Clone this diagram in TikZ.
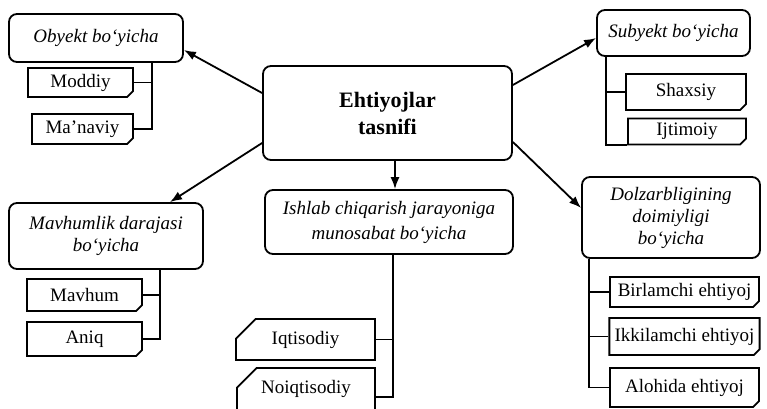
\documentclass[tikz,border=0pt]{standalone}
\usepackage{fontspec}
\setmainfont{Liberation Serif}
\usetikzlibrary{shapes.misc,arrows.meta}
\begin{document}
\begin{tikzpicture}[x=0.5pt,y=-0.5pt,line width=0.9pt]
       \tikzstyle{mainnode}=[draw, rounded corners=4pt, align=center, inner sep=2pt, font=\fontsize{9.5}{11}\selectfont\itshape]
       \tikzstyle{rootnode}=[mainnode, font=\fontsize{11}{13.5}\selectfont\bfseries]
       \tikzstyle{itemnode}=[draw, chamfered rectangle, chamfered rectangle corners=south east, chamfered rectangle xsep=1.6pt, chamfered rectangle ysep=1.3pt, inner sep=1pt, font=\fontsize{9.5}{11}\selectfont]
       \tikzstyle{leftitem}=[itemnode, chamfered rectangle corners=north west, chamfered rectangle xsep=13pt, chamfered rectangle ysep=4.5pt]
       \tikzstyle{arrowline}=[-{Latex[length=6pt,width=4.5pt]}]
       \useasboundingbox (0,0) rectangle (767,408);
       \node[rootnode, minimum width=124.5pt, minimum height=47pt] (ehtiyoj) at (387.5,113) {Ehtiyojlar\\tasnifi};
       \node[mainnode, minimum width=87pt, minimum height=24pt] (obyekt) at (96,38) {Obyekt bo`yicha};
       \node[mainnode, minimum width=76.5pt, minimum height=23pt] (subyekt) at (673.5,33) {Subyekt bo`yicha};
       \node[mainnode, minimum width=97pt, minimum height=33pt] (mavhumlik) at (106,236) {Mavhumlik darajasi\\bo`yicha};
       \node[mainnode, minimum width=124pt, minimum height=32pt, font=\fontsize{9.5}{12.5}\selectfont\itshape] (ishlab) at (389,222) {Ishlab chiqarish jarayoniga\\munosabat bo`yicha};
       \node[mainnode, minimum width=89pt, minimum height=40.5pt] (dolzarb) at (671,217.5) {Dolzarbligining\\doimiyligi\\bo`yicha};
       \node[itemnode, minimum width=52.5pt, minimum height=14.5pt] (moddiy) at (80.5,82.5) {Moddiy};
       \node[itemnode, minimum width=50.5pt, minimum height=15pt] (manaviy) at (82.5,129) {Ma’naviy};
       \node[itemnode, minimum width=60pt, minimum height=18pt] (shaxsiy) at (686,92) {Shaxsiy};
       \node[itemnode, minimum width=59pt, minimum height=12.5pt] (ijtimoiy) at (687,131.5) {Ijtimoiy};
       \node[itemnode, minimum width=57.5pt, minimum height=16pt] (mavhum) at (84.5,295) {Mavhum};
       \node[itemnode, minimum width=57.5pt, minimum height=17pt] (aniq) at (84.5,339) {Aniq};
       \node[leftitem, minimum width=69.5pt, minimum height=20.5pt] (iqtisodiy) at (305.5,339.5) {Iqtisodiy};
       \node[leftitem, minimum width=69pt, minimum height=21pt] (noiqtisodiy) at (306,389) {Noiqtisodiy};
       \node[itemnode, minimum width=74.5pt, minimum height=15pt] (birlamchi) at (684.5,292) {Birlamchi ehtiyoj};
       \node[itemnode, minimum width=74.5pt, minimum height=18.5pt] (ikkilamchi) at (684.5,336.5) {Ikkilamchi ehtiyoj};
       \node[itemnode, minimum width=74.5pt, minimum height=19.5pt] (alohida) at (684.5,387.5) {Alohida ehtiyoj};
       \draw[arrowline] ([yshift=10pt]ehtiyoj.west) -- ([yshift=-6pt]obyekt.east);
       \draw[arrowline] ([yshift=-15pt]ehtiyoj.west) -- ([xshift=32pt]mavhumlik.north);
       \draw[arrowline] ([yshift=14pt]ehtiyoj.east) -- ([yshift=-2.5pt]subyekt.west);
       \draw[arrowline] ([yshift=-14.5pt]ehtiyoj.east) -- ([yshift=4.75pt]dolzarb.west);
       \draw[arrowline] ([xshift=3.75pt]ehtiyoj.south) -- ([xshift=3.75pt]ehtiyoj.south |- ishlab.north);
       \coordinate (obyektT) at ([xshift=28pt]obyekt.south);
       \coordinate (subyektT) at ([xshift=5pt]subyekt.south west);
       \coordinate (mavhumlikT) at ([xshift=27pt]mavhumlik.south);
       \coordinate (ishlabT) at ([xshift=2pt]ishlab.south);
       \coordinate (dolzarbT) at ([xshift=4pt]dolzarb.south west);
       \draw (obyektT) |- (manaviy.east);
       \draw (moddiy.east) -- (moddiy.east -| obyektT);
       \draw (subyektT) |- (ijtimoiy.south west);
       \draw (shaxsiy.west) -- (shaxsiy.west -| subyektT);
       \draw (mavhumlikT) |- (aniq.east);
       \draw (mavhum.east) -- (mavhum.east -| mavhumlikT);
       \draw (ishlabT) |- ([yshift=-4pt]noiqtisodiy.east);
       \draw (iqtisodiy.east) -- (iqtisodiy.east -| ishlabT);
       \draw (dolzarbT) |- (alohida.west);
       \draw (birlamchi.west) -- (birlamchi.west -| dolzarbT);
       \draw (ikkilamchi.west) -- (ikkilamchi.west -| dolzarbT);
      \end{tikzpicture}
\end{document}
